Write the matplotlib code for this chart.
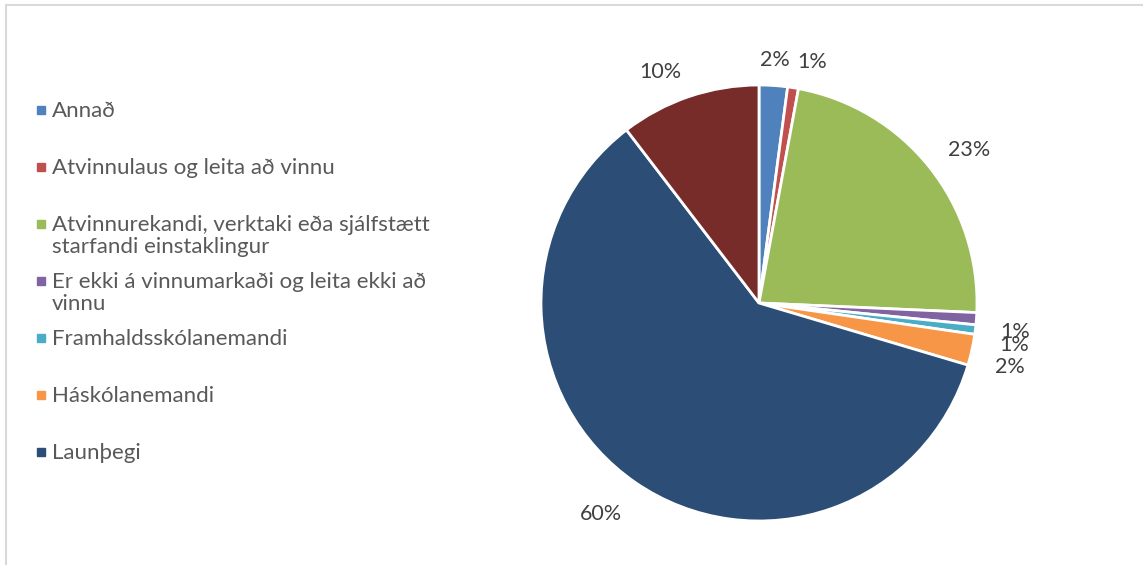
import matplotlib
matplotlib.use("Agg")
import matplotlib.pyplot as plt
import numpy as np

# Data (percent shares, clockwise from 12 o'clock)
categories = [
    "Annað",
    "Atvinnulaus og leita að vinnu",
    "Atvinnurekandi, verktaki eða sjálfstætt\nstarfandi einstaklingur",
    "Er ekki á vinnumarkaði og leita ekki að\nvinnu",
    "Framhaldsskólanemandi",
    "Háskólanemandi",
    "Launþegi",
    "Ótilgreint",
]
values = [2.1, 0.8, 22.8, 0.9, 0.7, 2.3, 60.0, 10.4]
pct_labels = ["2%", "1%", "23%", "1%", "1%", "2%", "60%", "10%"]
legend_count = 7  # only the first seven appear in the legend
colors = ["#4F81BD", "#C0504D", "#9BBB59", "#8064A2", "#4BACC6",
          "#F79646", "#2C4D75", "#772C2A"]

W, H, DPI = 1143, 565, 100
plt.rcParams['font.family'] = ['Lato', 'DejaVu Sans']
fig = plt.figure(figsize=(W / DPI, H / DPI), dpi=DPI)
fig.patch.set_facecolor("white")

# border lines
fig.add_artist(plt.Line2D([6 / W, 6 / W], [0, 1 - 5 / H], color="#D9D9D9", lw=1.5))
fig.add_artist(plt.Line2D([6 / W, 1], [1 - 5 / H, 1 - 5 / H], color="#D9D9D9", lw=1.5))

# Pie axes
cx, cy, r = 759, 303, 218
ax = fig.add_axes([(cx - r) / W, (H - cy - r) / H, 2 * r / W, 2 * r / H])
wedges, _ = ax.pie(values, colors=colors, startangle=90, counterclock=False,
                   radius=1.0, wedgeprops=dict(edgecolor="white", linewidth=2.0))
ax.set_xlim(-1, 1)
ax.set_ylim(-1, 1)
ax.set_aspect("equal")
ax.axis("off")

# data labels outside each slice (Excel-like outside-end placement)
renderer = fig.canvas.get_renderer()
gap = 24.0 / r
half_h = 7.0 / r
base_shift = 4.0 / r
for w, lab in zip(wedges, pct_labels):
    ang = np.deg2rad((w.theta1 + w.theta2) / 2)
    ux, uy = np.cos(ang), np.sin(ang)
    t = ax.text(0, 0, lab, ha="center", va="baseline",
                fontsize=15.5, color="#404040")
    bb = t.get_window_extent(renderer)
    half_w = bb.width / 2 / r
    sx = np.sign(ux) if abs(ux) > 0.1 else 0.0
    x = (1 + gap) * ux + sx * half_w
    y = (1 + gap) * uy + np.sign(uy) * half_h
    t.set_position((x, y - half_h - base_shift))

# manual legend
y0, pitch = 110, 57
for i in range(legend_count):
    y = y0 + i * pitch
    fig.add_artist(plt.Rectangle(((37) / W, (H - y - 4) / H), 8 / W, 8 / H,
                                 color=colors[i], transform=fig.transFigure))
    fig.text(52 / W, (H - y + 9) / H, categories[i], ha="left", va="top",
             fontsize=16, color="#595959", linespacing=1.15)

fig.savefig("out.png", dpi=DPI)
